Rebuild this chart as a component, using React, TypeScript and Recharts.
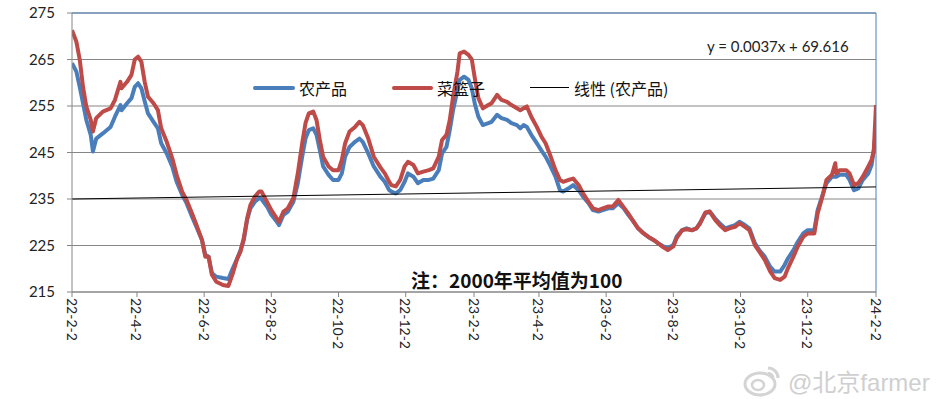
import React from 'react';
import { LineChart, Line, XAxis, YAxis, CartesianGrid, ReferenceLine, Legend } from 'recharts';

// day offsets from 2022-02-02
const days = [
  0, 4, 7, 10, 13, 17, 19, 22, 28, 35,
  39, 44, 45, 50, 54, 57, 60, 63, 66, 69,
  74, 78, 81, 86, 91, 95, 100, 104, 109, 113,
  118, 121, 124, 127, 131, 137, 142, 146, 150, 153,
  156, 159, 162, 166, 170, 172, 177, 181, 186, 188,
  192, 196, 201, 205, 209, 212, 215, 219, 222, 225,
  228, 233, 237, 242, 245, 248, 252, 257, 261, 264,
  269, 274, 280, 284, 288, 290, 294, 298, 302, 305,
  310, 314, 319, 324, 328, 333, 336, 340, 343, 346,
  350, 352, 356, 360, 363, 366, 369, 373, 378, 381,
  386, 390, 395, 399, 404, 407, 410, 413, 417, 422,
  426, 430, 434, 439, 443, 446, 451, 455, 460, 464,
  469, 473, 478, 482, 487, 491, 496, 501, 505, 510,
  514, 519, 523, 528, 532, 537, 541, 546, 549, 554,
  558, 563, 567, 570, 575, 579, 584, 588, 593, 597,
  602, 606, 611, 615, 620, 624, 629, 634, 638, 643,
  647, 650, 655, 659, 664, 668, 674, 677, 681, 685,
  690, 693, 694, 697, 703, 706, 710, 714, 718, 723,
  726, 728, 730,
];

// 农产品
const nongchanpin = [
  264.2, 262.4, 259.1, 255.6, 252, 248.8, 245.2, 248, 249.1, 250.5,
  252.7, 255.2, 254.1, 255.6, 256.7, 259.1, 259.9, 258.8, 256, 253.4,
  251.6, 250.2, 247, 244.8, 242, 238.7, 235.9, 234.1, 231.2, 229,
  226.2, 223, 222.6, 219.1, 218.3, 218, 217.8, 220.1, 222.2, 224,
  226.2, 230.5, 233, 234.4, 235.2, 235, 233.4, 231.6, 230.1, 229.4,
  231.6, 232.3, 234.4, 238.4, 244.1, 248, 249.8, 250.2, 248.8, 245.5,
  242, 240.2, 239.1, 239.1, 240.5, 244.1, 246.2, 247.3, 248, 247.3,
  244.8, 242, 239.8, 238.7, 236.9, 236.6, 236.2, 236.9, 238.7, 240.5,
  239.8, 238.4, 239.1, 239.1, 239.4, 241.2, 244.8, 246.2, 249.8, 254.1,
  258.4, 260.6, 261.3, 260.6, 258.8, 255.2, 252.7, 250.9, 251.3, 251.6,
  253.1, 252.4, 252, 251.3, 250.9, 250.2, 250.9, 250.5, 248.8, 247,
  245.5, 244.1, 242.3, 239.8, 236.9, 236.6, 237.3, 238, 236.9, 235.5,
  234.1, 232.6, 232.3, 232.6, 233, 233, 234.1, 233, 231.6, 230.1,
  228.7, 227.6, 226.9, 226.2, 225.5, 224.8, 224.4, 225.1, 226.9, 228.3,
  228.7, 228.3, 228.7, 229.8, 231.9, 232.3, 230.8, 229.8, 228.7, 229,
  229.4, 230.1, 229.4, 228.7, 225.5, 224, 222.6, 220.4, 219.4, 219.4,
  220.8, 222.2, 224, 225.8, 227.6, 228.3, 228.3, 232.6, 235.5, 238.4,
  239.8, 239.8, 239.8, 240.2, 240.2, 239.1, 236.9, 237.3, 239.1, 240.5,
  242.3, 245.5, 250,
];

// 菜篮子
const cailanzi = [
  271.3, 268.8, 265, 259.1, 254.9, 252, 249.5, 252.4, 253.8, 254.5,
  256.3, 260.2, 258.8, 260.2, 261.7, 265, 265.6, 264.5, 260.2, 257,
  255.6, 254.1, 250.2, 247.3, 243.8, 240.2, 236.6, 234.8, 231.9, 229.4,
  226.2, 222.6, 222.6, 218.7, 217.2, 216.5, 216.3, 219, 222.2, 223.7,
  226.6, 230.8, 233.7, 235.5, 236.6, 236.6, 234.4, 232.6, 230.8, 230.1,
  232.3, 233, 235.2, 240.5, 247, 251.3, 253.4, 253.8, 252, 247.7,
  244.1, 242, 241.2, 241.2, 243.4, 247, 249.5, 250.5, 251.6, 250.9,
  248, 244.1, 241.8, 240.5, 238.7, 238, 237.7, 239.1, 242, 243,
  242.3, 240.5, 240.9, 241.2, 241.6, 244.1, 247.7, 248.8, 252, 257,
  262.4, 266.3, 266.7, 266, 265, 260.6, 256.7, 254.5, 255.2, 255.6,
  257.4, 256.3, 255.9, 255.2, 254.5, 254.1, 254.5, 254.9, 252.7, 250.5,
  248.5, 247, 244.5, 241.2, 239.1, 238.7, 239.1, 239.4, 238, 236.2,
  234.4, 233, 232.6, 233, 233.4, 233.4, 234.8, 233.2, 231.9, 230.1,
  228.7, 227.6, 226.9, 226.2, 225.5, 224.6, 224, 224.8, 226.6, 228.3,
  228.5, 228.3, 228.7, 229.6, 232.1, 232.3, 230.5, 229.4, 228.3, 228.7,
  229, 229.8, 229, 228.3, 225.1, 223.7, 221.9, 219.4, 218, 217.6,
  218.3, 220.1, 222.6, 224.8, 226.9, 227.6, 227.6, 231.9, 235.2, 239.1,
  240.2, 242.7, 240.5, 241.2, 241.2, 240.5, 238, 238.4, 239.8, 242,
  243.4, 245.5, 255.2,
];

// 线性 (农产品)
const trendDays = [0, 730];
const trendValues = [235.0, 237.6];

const tickDays = [0, 59, 120, 181, 242, 303, 365, 424, 485, 546, 607, 668, 730];
const tickLabels = ['22-2-2', '22-4-2', '22-6-2', '22-8-2', '22-10-2', '22-12-2', '23-2-2', '23-4-2', '23-6-2', '23-8-2', '23-10-2', '23-12-2', '24-2-2'];
const yTicks = [215, 225, 235, 245, 255, 265, 275];

const seriesNames = ['农产品', '菜篮子', '线性 (农产品)'];
const equationText = 'y = 0.0037x + 69.616';
const noteText = '注：2000年平均值为100';
const watermarkText = '@北京farmer';

const data = days.map((d, i) => ({ day: d, a: nongchanpin[i], b: cailanzi[i] }));
const trendData = trendDays.map((d, i) => ({ day: d, t: trendValues[i] }));

const BLUE = '#4A7EBB';
const RED = '#BE4B48';
const GRID = '#868686';
const FONT = "Lato, 'Noto Sans CJK SC', sans-serif";
const CJK = "'Noto Sans CJK SC', sans-serif";

const XTick = (props: any) => {
  const { x, y, payload } = props;
  const idx = tickDays.indexOf(payload.value);
  const label = idx >= 0 ? tickLabels[idx] : String(payload.value);
  return (
    <text
      x={x}
      y={y + 1}
      transform={`rotate(90, ${x}, ${y + 1})`}
      textAnchor="start"
      dominantBaseline="central"
      fontSize={14}
      fontFamily={FONT}
      fill="#222"
    >
      {label}
    </text>
  );
};

const LegendContent = () => (
  <div style={{ position: 'relative', width: 941, height: 22, fontFamily: CJK, fontSize: 16, color: '#111' }}>
    <div style={{ position: 'absolute', left: 253, top: 9, width: 42, height: 4, background: BLUE, borderRadius: 2 }} />
    <div style={{ position: 'absolute', left: 299, top: 0, lineHeight: '22px' }}>{seriesNames[0]}</div>
    <div style={{ position: 'absolute', left: 392, top: 9, width: 41, height: 4, background: RED, borderRadius: 2 }} />
    <div style={{ position: 'absolute', left: 437, top: 0, lineHeight: '22px' }}>{seriesNames[1]}</div>
    <div style={{ position: 'absolute', left: 530, top: 10, width: 39, height: 1, background: '#000' }} />
    <div style={{ position: 'absolute', left: 574, top: 0, lineHeight: '22px' }}>{seriesNames[2]}</div>
  </div>
);

export default function App() {
  return (
    <div style={{ position: 'absolute', left: 0, top: 0, width: 941, height: 399, background: '#fff', overflow: 'hidden' }}>
      <LineChart width={941} height={399} data={data} margin={{ top: 13, right: 65, bottom: 0, left: 0 }}>
        <CartesianGrid vertical={false} stroke={GRID} strokeWidth={1} />
        <XAxis
          dataKey="day"
          type="number"
          domain={[0, 730]}
          ticks={tickDays}
          interval={0}
          height={107}
          tick={<XTick />}
          tickSize={5}
          tickMargin={0}
          stroke={GRID}
          axisLine={{ stroke: GRID }}
          tickLine={{ stroke: GRID }}
          allowDataOverflow
        />
        <YAxis
          type="number"
          domain={[215, 275]}
          ticks={yTicks}
          interval={0}
          width={72}
          tickSize={5}
          tickMargin={12}
          axisLine={{ stroke: GRID }}
          tickLine={{ stroke: GRID }}
          tick={{ fontSize: 15, fontFamily: FONT, fill: '#222' }}
          allowDataOverflow
        />
        <ReferenceLine y={275} stroke={BLUE} strokeWidth={1} />
        <ReferenceLine x={730} stroke={BLUE} strokeWidth={1} />
        <Legend
          layout="horizontal"
          verticalAlign="middle"
          align="center"
          content={<LegendContent />}
          wrapperStyle={{ left: 0, top: 77, width: 941, height: 22 }}
        />
        <Line
          dataKey="a"
          name={seriesNames[0]}
          stroke={BLUE}
          strokeWidth={4}
          dot={false}
          activeDot={false}
          isAnimationActive={false}
          strokeLinejoin="round"
        />
        <Line
          dataKey="b"
          name={seriesNames[1]}
          stroke={RED}
          strokeWidth={4}
          dot={false}
          activeDot={false}
          isAnimationActive={false}
          strokeLinejoin="round"
        />
        <Line
          data={trendData}
          dataKey="t"
          name={seriesNames[2]}
          stroke="#000"
          strokeWidth={1}
          dot={false}
          activeDot={false}
          isAnimationActive={false}
        />
      </LineChart>
      <div style={{ position: 'absolute', left: 707, top: 37, fontFamily: FONT, fontSize: 15, color: '#222', whiteSpace: 'nowrap' }}>
        {equationText}
      </div>
      <div style={{ position: 'absolute', left: 411, top: 266, fontFamily: CJK, fontSize: 19, fontWeight: 'bold', color: '#111', whiteSpace: 'nowrap' }}>
        {noteText}
      </div>
      <div style={{ position: 'absolute', left: 742, top: 362, display: 'flex', alignItems: 'center' }}>
        <svg width={40} height={36}>
          <ellipse cx={18} cy={22} rx={15} ry={11} fill="none" stroke="#d4d4d4" strokeWidth={3} />
          <ellipse cx={16} cy={23} rx={6} ry={5} fill="none" stroke="#d4d4d4" strokeWidth={2.5} />
          <path d="M26 6 A10 10 0 0 1 36 16" fill="none" stroke="#d4d4d4" strokeWidth={3} />
          <path d="M26 11 A5 5 0 0 1 31 16" fill="none" stroke="#d4d4d4" strokeWidth={2.5} />
        </svg>
        <span style={{ fontFamily: "'Liberation Sans', 'Noto Sans CJK SC', sans-serif", fontSize: 24, color: '#cfcfcf', marginLeft: 6, textShadow: '0 0 2px #fff', whiteSpace: 'nowrap' }}>
          {watermarkText}
        </span>
      </div>
    </div>
  );
}
